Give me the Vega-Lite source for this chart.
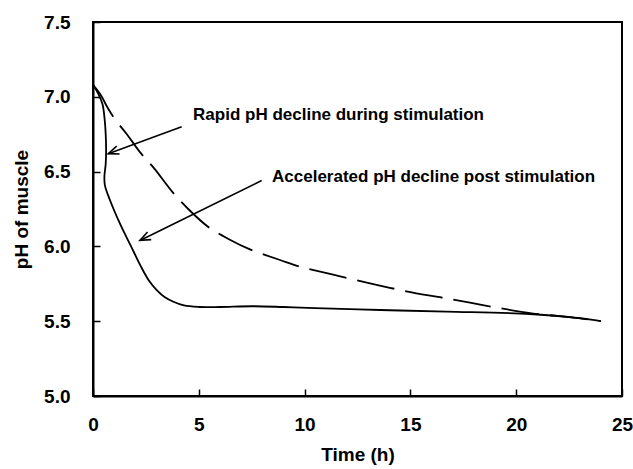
{
  "$schema": "https://vega.github.io/schema/vega-lite/v6.json",
  "width": 529,
  "height": 374,
  "autosize": "none",
  "padding": {"left": 93, "top": 22, "right": 11, "bottom": 73},
  "background": "white",
  "config": {
    "view": {"stroke": "black", "strokeWidth": 2},
    "axis": {
      "grid": false,
      "zindex": 1,
      "ticks": true,
      "domainColor": "black",
      "domainWidth": 2,
      "tickColor": "black",
      "tickWidth": 1.5,
      "tickSize": -7,
      "labelFont": "Liberation Sans",
      "labelFontWeight": "bold",
      "labelFontSize": 19,
      "labelColor": "black",
      "labelFlush": false,
      "labelOverlap": false,
      "titleFont": "Liberation Sans",
      "titleFontWeight": "bold",
      "titleFontSize": 19,
      "titleColor": "black"
    }
  },
  "datasets": {
    "curves": [
      {"series": "solid", "i": 1, "time": 0, "ph": 7.08},
      {"series": "solid", "i": 2, "time": 0.25, "ph": 7.02},
      {"series": "solid", "i": 3, "time": 0.45, "ph": 6.95},
      {"series": "solid", "i": 4, "time": 0.55, "ph": 6.85},
      {"series": "solid", "i": 5, "time": 0.6, "ph": 6.75},
      {"series": "solid", "i": 6, "time": 0.62, "ph": 6.65},
      {"series": "solid", "i": 7, "time": 0.6, "ph": 6.55},
      {"series": "solid", "i": 8, "time": 0.54, "ph": 6.47},
      {"series": "solid", "i": 9, "time": 0.56, "ph": 6.41},
      {"series": "solid", "i": 10, "time": 0.8, "ph": 6.31},
      {"series": "solid", "i": 11, "time": 1.28, "ph": 6.15},
      {"series": "solid", "i": 12, "time": 1.8, "ph": 6.0},
      {"series": "solid", "i": 13, "time": 2.25, "ph": 5.87},
      {"series": "solid", "i": 14, "time": 2.65, "ph": 5.77},
      {"series": "solid", "i": 15, "time": 3.0, "ph": 5.71},
      {"series": "solid", "i": 16, "time": 3.4, "ph": 5.66},
      {"series": "solid", "i": 17, "time": 3.8, "ph": 5.63},
      {"series": "solid", "i": 18, "time": 4.3, "ph": 5.605},
      {"series": "solid", "i": 19, "time": 5, "ph": 5.595},
      {"series": "solid", "i": 20, "time": 6, "ph": 5.595},
      {"series": "solid", "i": 21, "time": 7.5, "ph": 5.6},
      {"series": "solid", "i": 22, "time": 9, "ph": 5.595},
      {"series": "solid", "i": 23, "time": 10.5, "ph": 5.588},
      {"series": "solid", "i": 24, "time": 13.57, "ph": 5.575},
      {"series": "solid", "i": 25, "time": 16.7, "ph": 5.564},
      {"series": "solid", "i": 26, "time": 20.65, "ph": 5.548},
      {"series": "solid", "i": 27, "time": 23.0, "ph": 5.52},
      {"series": "solid", "i": 28, "time": 24, "ph": 5.5},
      {"series": "dashed", "i": 1, "time": 0, "ph": 7.08},
      {"series": "dashed", "i": 2, "time": 0.33, "ph": 7.02},
      {"series": "dashed", "i": 3, "time": 0.72, "ph": 6.92},
      {"series": "dashed", "i": 4, "time": 1.04, "ph": 6.85},
      {"series": "dashed", "i": 5, "time": 1.6, "ph": 6.75},
      {"series": "dashed", "i": 6, "time": 2.22, "ph": 6.63},
      {"series": "dashed", "i": 7, "time": 2.9, "ph": 6.52},
      {"series": "dashed", "i": 8, "time": 3.72, "ph": 6.37},
      {"series": "dashed", "i": 9, "time": 4.5, "ph": 6.25},
      {"series": "dashed", "i": 10, "time": 5.45, "ph": 6.13},
      {"series": "dashed", "i": 11, "time": 6.4, "ph": 6.05},
      {"series": "dashed", "i": 12, "time": 7.42, "ph": 5.98},
      {"series": "dashed", "i": 13, "time": 8.84, "ph": 5.909},
      {"series": "dashed", "i": 14, "time": 9.78, "ph": 5.864},
      {"series": "dashed", "i": 15, "time": 11.2, "ph": 5.816},
      {"series": "dashed", "i": 16, "time": 13.09, "ph": 5.753},
      {"series": "dashed", "i": 17, "time": 15.06, "ph": 5.693},
      {"series": "dashed", "i": 18, "time": 16.95, "ph": 5.646},
      {"series": "dashed", "i": 19, "time": 18.84, "ph": 5.597},
      {"series": "dashed", "i": 20, "time": 20.73, "ph": 5.553},
      {"series": "dashed", "i": 21, "time": 22.62, "ph": 5.526},
      {"series": "dashed", "i": 22, "time": 24, "ph": 5.5}
    ],
    "arrows": [
      {"id": "a1", "x1": 4.19, "y1": 6.8, "x2": 0.72, "y2": 6.62},
      {"id": "a2", "x1": 7.97, "y1": 6.44, "x2": 2.22, "y2": 6.04}
    ],
    "notes": [
      {"time": 4.73, "ph": 6.878, "text": "Rapid pH decline during stimulation"},
      {"time": 8.46, "ph": 6.466, "text": "Accelerated pH decline post stimulation"}
    ]
  },
  "encoding": {
    "x": {
      "field": "time",
      "type": "quantitative",
      "scale": {"domain": [0, 25], "nice": false, "zero": false},
      "axis": {"title": "Time (h)", "values": [0, 5, 10, 15, 20, 25], "format": "d", "labelPadding": 26, "titlePadding": 11}
    },
    "y": {
      "field": "ph",
      "type": "quantitative",
      "scale": {"domain": [5, 7.5], "nice": false, "zero": false},
      "axis": {"title": "pH of muscle", "values": [5, 5.5, 6, 6.5, 7, 7.5], "format": ".1f", "labelPadding": 30, "titlePadding": 12}
    }
  },
  "layer": [
    {
      "data": {"name": "curves"},
      "transform": [{"filter": "datum.series === 'solid'"}],
      "mark": {"type": "line", "color": "black", "strokeWidth": 1.8, "interpolate": "catmull-rom"},
      "encoding": {"order": {"field": "i", "type": "quantitative"}}
    },
    {
      "data": {"name": "curves"},
      "transform": [{"filter": "datum.series === 'dashed'"}],
      "mark": {"type": "line", "color": "black", "strokeWidth": 1.8, "interpolate": "catmull-rom", "strokeDash": [38, 11]},
      "encoding": {"order": {"field": "i", "type": "quantitative"}}
    },
    {
      "data": {"name": "arrows"},
      "mark": {"type": "rule", "color": "black", "strokeWidth": 1.6},
      "encoding": {
        "x": {"field": "x1", "type": "quantitative"},
        "y": {"field": "y1", "type": "quantitative"},
        "x2": {"field": "x2"},
        "y2": {"field": "y2"}
      }
    },
    {
      "data": {"name": "arrows"},
      "transform": [{"filter": "datum.id === 'a1'"}],
      "mark": {"type": "point", "shape": "M -0.4 1 L 0 0 L 0.4 1", "filled": false, "color": "black", "strokeWidth": 1.6, "size": 440, "angle": 250, "opacity": 1},
      "encoding": {
        "x": {"field": "x2", "type": "quantitative"},
        "y": {"field": "y2", "type": "quantitative"}
      }
    },
    {
      "data": {"name": "arrows"},
      "transform": [{"filter": "datum.id === 'a2'"}],
      "mark": {"type": "point", "shape": "M -0.4 1 L 0 0 L 0.4 1", "filled": false, "color": "black", "strokeWidth": 1.6, "size": 440, "angle": 244, "opacity": 1},
      "encoding": {
        "x": {"field": "x2", "type": "quantitative"},
        "y": {"field": "y2", "type": "quantitative"}
      }
    },
    {
      "data": {"name": "notes"},
      "mark": {"type": "text", "align": "left", "baseline": "middle", "font": "Liberation Sans", "fontWeight": "bold", "fontSize": 17, "color": "black"},
      "encoding": {"text": {"field": "text"}}
    }
  ]
}
